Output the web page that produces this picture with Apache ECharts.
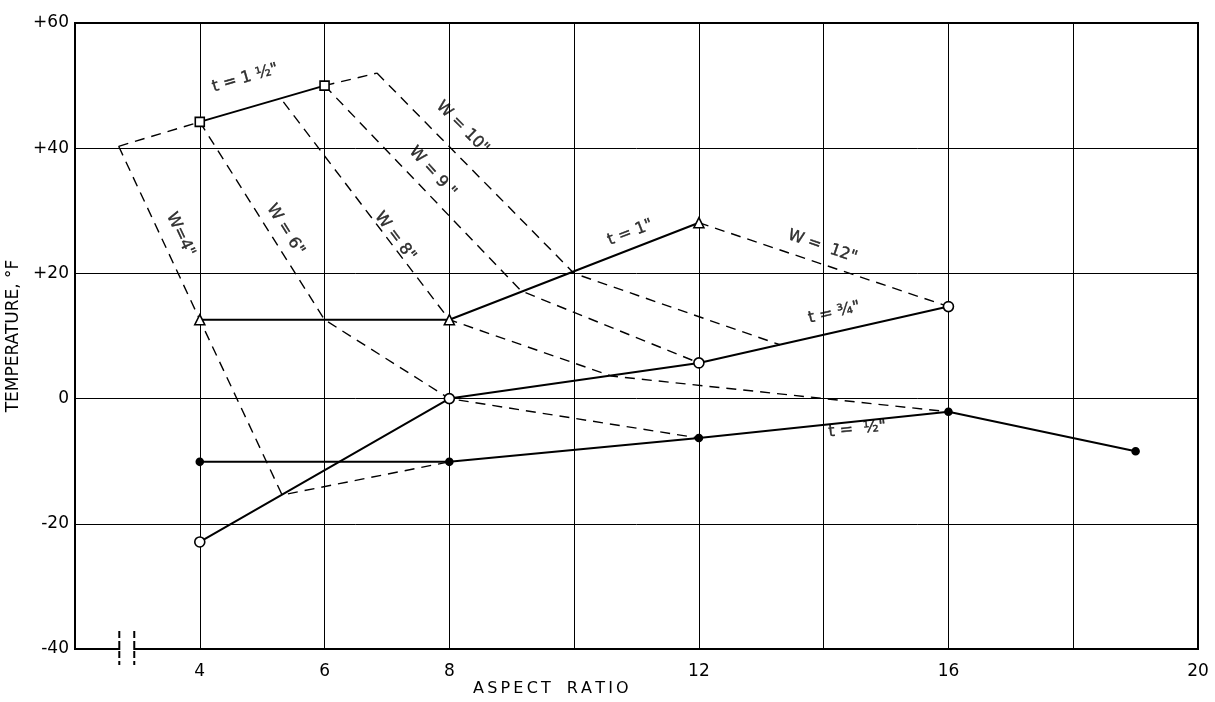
<!DOCTYPE html>
<html>
<head>
<meta charset="utf-8">
<script src="https://cdn.jsdelivr.net/npm/echarts@6/dist/echarts.min.js"></script>
<style>
html,body{margin:0;padding:0;background:#fff;}
#c{width:1215px;height:702px;}
</style>
</head>
<body>
<div id="c"></div>
<script>
// ---- data (aspect ratio, temperature °F) ----
const xTickLabels = ['4', '6', '8', '12', '16', '20'];
const yTicks = [-40, -20, 0, 20, 40, 60];

// solid thickness curves
const tOneHalf = [[4, 44.2], [6, 50]];
const tOne = [[4, 12.6], [8, 12.6], [12, 28.1]];
const tThreeQuarter = [[4, -22.9], [8, 0], [12, 5.7], [16, 14.7]];
const tHalf = [[4, -10.1], [8, -10.1], [12, -6.3], [16, -2.1], [19, -8.4]];

// dashed extensions of t = 1 1/2"
const envelopeLeft = [[2.7, 40.3], [4, 44.2]];
const envelopeRight = [[6, 50], [6.84, 52]];

// dashed constant-width curves
const w4 = [[2.7, 40.3], [4, 12.6], [5.32, -15.4], [8, -10.1]];
const w6 = [[4, 44.2], [6, 12.6], [8, 0], [12, -6.3]];
const w8 = [[5.34, 47.4], [8, 12.6], [10.6, 3.6], [16, -2.1]];
const w9 = [[6, 50], [9.15, 17.2], [12, 5.7]];
const w10 = [[6.84, 52], [10, 20], [13.3, 8.6]];
const w12 = [[12, 28.1], [16, 14.7]];

// curve labels: text, anchor [x, y], rotation (deg)
const labelTexts = ['t = 1 ½"', 'W = 10"', 'W = 9 "', 'W = 8"', 'W = 6"', 'W=4"', 't = 1"', 'W =  12"', 't = ¾"', 't =  ½"'];
const labelAnchors = [[4.73, 51.2], [8.21, 43.3], [7.73, 36.2], [7.13, 25.9], [5.37, 27.0], [3.69, 26.2], [10.9, 26.5], [13.98, 24.3], [14.17, 13.7], [14.54, -4.9]];
const labelAngles = [16, -45, -48, -53, -58, -65, 21, -19, 13, 6];

// ---- chart ----
const FONT = 'DejaVu Sans';
const chart = echarts.init(document.getElementById('c'), null, {renderer: 'canvas'});

function solid(name, data, symbol, size, filled) {
  return {
    name, type: 'line', data, symbol, symbolSize: size, showSymbol: true,
    lineStyle: {color: '#000', width: 2},
    itemStyle: {color: filled ? '#000' : '#fff', borderColor: '#000', borderWidth: 1.6},
    z: 5, animation: false
  };
}
function dashed(name, data) {
  return {
    name, type: 'line', data, symbol: 'none',
    lineStyle: {color: '#000', width: 1.4, type: [10, 7]},
    z: 3, animation: false
  };
}

const labelData = labelTexts.map((t, i) => ({
  value: labelAnchors[i],
  label: {formatter: t, rotate: labelAngles[i]}
}));

chart.setOption({
  backgroundColor: '#fff',
  animation: false,
  grid: {left: 75, right: 17, top: 23, bottom: 53, show: true, borderColor: '#000', borderWidth: 2,
         containLabel: false, outerBoundsMode: 'none'},
  xAxis: {
    type: 'value', min: 2, max: 20, interval: 2,
    axisLine: {show: true, onZero: false, lineStyle: {color: '#000', width: 2}},
    axisTick: {show: false},
    splitLine: {show: true, lineStyle: {color: '#000', width: 1}},
    axisLabel: {
      color: '#000', fontFamily: FONT, fontSize: 17, margin: 14,
      formatter: v => xTickLabels.indexOf(String(v)) >= 0 ? String(v) : ''
    }
  },
  yAxis: {
    type: 'value', min: -40, max: 60, interval: 20,
    name: 'TEMPERATURE, °F', nameLocation: 'middle', nameGap: 45, nameRotate: 90,
    nameTextStyle: {color: '#000', fontFamily: FONT, fontSize: 17},
    axisLine: {show: true, onZero: false, lineStyle: {color: '#000', width: 2}},
    axisTick: {show: false},
    splitLine: {show: true, lineStyle: {color: '#000', width: 1}},
    axisLabel: {
      color: '#000', fontFamily: FONT, fontSize: 17, margin: 6,
      formatter: v => yTicks.indexOf(v) >= 0 ? (v > 0 ? '+' + v : (v < 0 ? '-' + Math.abs(v) : String(v))) : ''
    }
  },
  series: [
    dashed('envL', envelopeLeft),
    dashed('envR', envelopeRight),
    dashed('W4', w4),
    dashed('W6', w6),
    dashed('W8', w8),
    dashed('W9', w9),
    dashed('W10', w10),
    dashed('W12', w12),
    solid('t=1 1/2', tOneHalf, 'rect', 9, false),
    solid('t=1', tOne, 'triangle', 10, false),
    solid('t=3/4', tThreeQuarter, 'circle', 10, false),
    solid('t=1/2', tHalf, 'circle', 7, true),
    {
      name: 'labels', type: 'scatter', data: labelData, symbolSize: 0,
      label: {show: true, position: 'inside', color: '#000', fontFamily: FONT, fontSize: 16,
              textBorderColor: '#000', textBorderWidth: 0.4},
      z: 6, silent: true, animation: false
    }
  ]
});

// axis break marks and x-axis title
const pA = chart.convertToPixel({gridIndex: 0}, [2.71, -40]);
const pB = chart.convertToPixel({gridIndex: 0}, [2.95, -40]);
chart.setOption({
  graphic: [
    {type: 'rect', shape: {x: pA[0] + 1, y: pA[1] - 3, width: pB[0] - pA[0] - 2, height: 6}, style: {fill: '#fff'}, z: 100},
    {type: 'line', shape: {x1: pA[0], y1: pA[1] - 18, x2: pA[0], y2: pA[1] + 16}, style: {stroke: '#000', lineWidth: 2, lineDash: [7, 3]}, z: 101},
    {type: 'line', shape: {x1: pB[0], y1: pB[1] - 18, x2: pB[0], y2: pB[1] + 16}, style: {stroke: '#000', lineWidth: 2, lineDash: [7, 3]}, z: 101},
    {type: 'text', left: 473, top: 681, style: {text: 'A\u2009S\u2009P\u2009E\u2009C\u2009T\u2003R\u2009A\u2009T\u2009I\u2009O', fill: '#000', font: '16px "DejaVu Sans"'}, z: 101}
  ]
});
</script>
</body>
</html>
